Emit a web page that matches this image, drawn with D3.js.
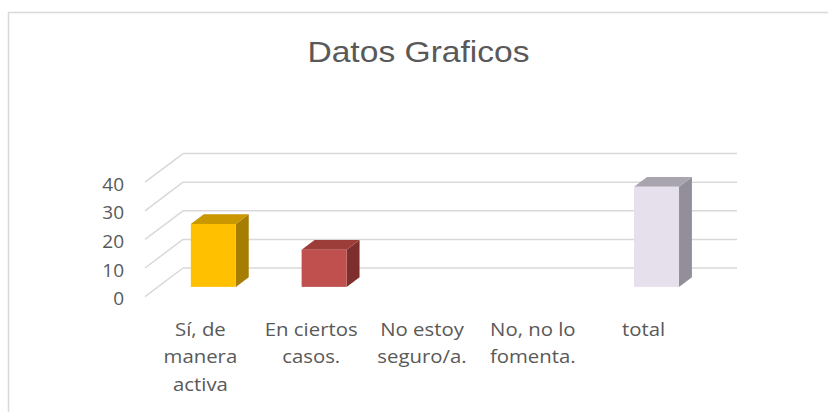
<!DOCTYPE html>
<html>
<head>
<meta charset="utf-8">
<script src="https://cdn.jsdelivr.net/npm/d3@7"></script>
<style>
  html, body { margin: 0; padding: 0; background: #fff; }
  svg { display: block; }
</style>
</head>
<body>
<svg id="chart" width="828" height="412"></svg>
<script>
// ---- data ----
const title = "Datos Graficos";
const categories = ["Sí, de manera activa", "En ciertos casos.", "No estoy seguro/a.", "No, no lo fomenta.", "total"];
const categoryLabelLines = [["Sí, de", "manera", "activa"], ["En ciertos", "casos."], ["No estoy", "seguro/a."], ["No, no lo", "fomenta."], ["total"]];
const values = [22, 13, 0, 0, 35];
const yTicks = [0, 10, 20, 30, 40];

// ---- styles ----
const frontColors = ["#FFC000", "#C0504D", "#FFC000", "#C0504D", "#E6E0EC"];
const topColors   = ["#C99700", "#9C3D3A", "#C99700", "#9C3D3A", "#A9A5AE"];
const sideColors  = ["#A67D00", "#7E2E2C", "#A67D00", "#7E2E2C", "#938F9A"];
const textColor = "#595959";
const gridColor = "#D9D9D9";

const svg = d3.select("#chart");

// outer chart border
svg.append("rect")
  .attr("x", 8.5).attr("y", 12.5)
  .attr("width", 840).attr("height", 420)
  .attr("fill", "#fff")
  .attr("stroke", gridColor).attr("stroke-width", 1.5);

// title
svg.append("text")
  .attr("transform", "translate(418.5,61.5) scale(1.12,1)")
  .attr("text-anchor", "middle")
  .attr("font-family", "Liberation Sans, Arial, sans-serif")
  .attr("font-size", 30)
  .attr("fill", textColor)
  .text(title);

// ---- scales (front plane) ----
const x = d3.scaleBand()
  .domain(categories)
  .range([145, 699])
  .paddingInner(0.594)
  .paddingOuter(0.297);

const y = d3.scaleLinear().domain([0, 40]).range([296.6, 182.2]);

// depth vector from front to back wall
const depthX = 38, depthY = -28.6;
const f0 = 0.34, f1 = 0.68; // bar depth range (fraction)

// gridlines: back wall + left side wall diagonals
const grid = svg.append("g");
yTicks.forEach(t => {
  const yf = y(t);
  grid.append("line")
    .attr("x1", x.range()[0] + depthX).attr("x2", x.range()[1] + depthX)
    .attr("y1", yf + depthY).attr("y2", yf + depthY)
    .attr("stroke", gridColor).attr("stroke-width", 1.5);
  grid.append("line")
    .attr("x1", x.range()[0]).attr("x2", x.range()[0] + depthX)
    .attr("y1", yf).attr("y2", yf + depthY)
    .attr("stroke", gridColor).attr("stroke-width", 1.5);
});

// y axis labels
const yAxis = d3.axisLeft(y).tickValues(yTicks).tickSize(0).tickPadding(0);
const yg = svg.append("g").attr("transform", "translate(124,2)").call(yAxis);
yg.select(".domain").remove();
yg.selectAll("text")
  .attr("font-family", "Open Sans, sans-serif")
  .attr("font-size", 19)
  .attr("fill", textColor);

// bars (3D boxes)
const bars = svg.append("g");
categories.forEach((c, i) => {
  const v = values[i];
  if (!v) return;
  const x0 = x(c) + f0 * depthX;
  const x1 = x0 + x.bandwidth();
  const yb = y(0) + f0 * depthY;
  const yt = y(v) + f0 * depthY;
  const dx = (f1 - f0) * depthX, dy = (f1 - f0) * depthY;
  const pts = a => a.map(p => p.join(",")).join(" ");
  // side face
  bars.append("polygon")
    .attr("points", pts([[x1, yt], [x1 + dx, yt + dy], [x1 + dx, yb + dy], [x1, yb]]))
    .attr("fill", sideColors[i]);
  // top face
  bars.append("polygon")
    .attr("points", pts([[x0, yt], [x0 + dx, yt + dy], [x1 + dx, yt + dy], [x1, yt]]))
    .attr("fill", topColors[i]);
  // front face
  bars.append("rect")
    .attr("x", x0).attr("y", yt)
    .attr("width", x1 - x0).attr("height", yb - yt)
    .attr("fill", frontColors[i]);
});

// category labels
const baseY = 336, lineH = 27.5;
categories.forEach((c, i) => {
  const cx = x(c) + x.bandwidth() / 2;
  const t = svg.append("text")
    .attr("transform", `translate(${cx},${baseY}) scale(1.1,1)`)
    .attr("text-anchor", "middle")
    .attr("font-family", "Open Sans, sans-serif")
    .attr("font-size", 18.5)
    .attr("fill", textColor);
  categoryLabelLines[i].forEach((ln, k) => {
    t.append("tspan").attr("x", 0).attr("y", k * lineH).text(ln);
  });
});
</script>
</body>
</html>
